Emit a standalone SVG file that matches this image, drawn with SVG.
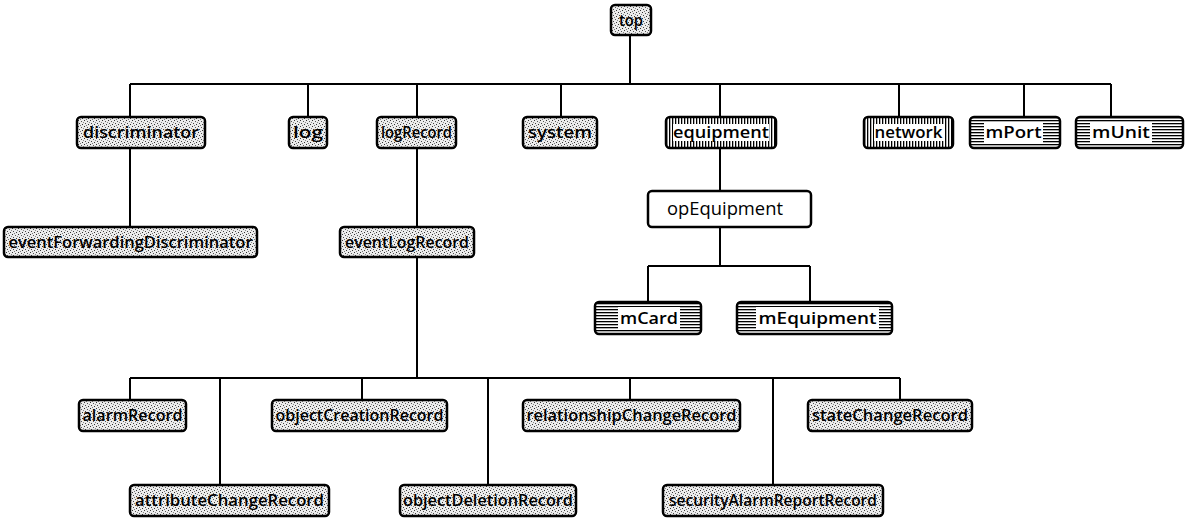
<svg xmlns="http://www.w3.org/2000/svg" width="1196" height="525" viewBox="0 0 1196 525">
<defs>
<pattern id="stip" width="6" height="6" patternUnits="userSpaceOnUse">
<rect width="6" height="6" fill="#ececec"/>
<rect x="0" y="0" width="1" height="1" fill="#333"/>
<rect x="3" y="1" width="1" height="1" fill="#555"/>
<rect x="1" y="3" width="1" height="1" fill="#444"/>
<rect x="4" y="4" width="1" height="1" fill="#333"/>
<rect x="5" y="2" width="1" height="1" fill="#888"/>
<rect x="2" y="5" width="1" height="1" fill="#777"/>
</pattern>
<pattern id="vh" width="3" height="3" patternUnits="userSpaceOnUse">
<rect width="3" height="3" fill="#fff"/>
<rect x="0" y="0" width="1.3" height="3" fill="#000"/>
</pattern>
<pattern id="hh" width="3" height="3" patternUnits="userSpaceOnUse">
<rect width="3" height="3" fill="#fff"/>
<rect x="0" y="0" width="3" height="1.3" fill="#000"/>
</pattern>
</defs>
<style>
.b{stroke:#000;stroke-width:2.5;fill:none}
.s{fill:url(#stip)}
.t{font-family:"Open Sans","DejaVu Sans",sans-serif;font-weight:600;font-size:17px;fill:#000;text-anchor:middle}
.r{font-weight:400;font-size:19px}
.c{stroke:#000;stroke-width:2;fill:none}
</style>
<g id="connectors">
<path class="c" d="M630,35V84M130,84H1111M130,84V117M308,84V117M417,84V117M561,84V117M720,84V117M899,84V117M1024,84V117M1111,84V117"/>
<path class="c" d="M130,148V227M417,148V227M720,148V191M720,227V266M648,266H810M648,266V302M810,266V302"/>
<path class="c" d="M417,257V378M130,378H900M130,378V400M220,378V485M362,378V400M488,378V485M630,378V400M773,378V485M900,378V400"/>
</g>
<g id="top"><rect class="s" x="611" y="5" width="40" height="30" rx="4"/><rect class="b" x="611" y="5" width="40" height="30" rx="4"/><text class="t" x="631" y="26" textLength="24" lengthAdjust="spacingAndGlyphs">top</text></g>
<g id="discriminator"><rect class="s" x="77" y="117" width="128" height="31" rx="4"/><rect class="b" x="77" y="117" width="128" height="31" rx="4"/><text class="t" x="141" y="138" textLength="116" lengthAdjust="spacingAndGlyphs">discriminator</text></g>
<g id="log"><rect class="s" x="289" y="117" width="38" height="31" rx="4"/><rect class="b" x="289" y="117" width="38" height="31" rx="4"/><text class="t" x="308" y="138" textLength="30" lengthAdjust="spacingAndGlyphs">log</text></g>
<g id="logRecord"><rect class="s" x="377" y="117" width="79" height="31" rx="4"/><rect class="b" x="377" y="117" width="79" height="31" rx="4"/><text class="t" x="416.5" y="138" textLength="71" lengthAdjust="spacingAndGlyphs">logRecord</text></g>
<g id="system"><rect class="s" x="523" y="117" width="74" height="31" rx="4"/><rect class="b" x="523" y="117" width="74" height="31" rx="4"/><text class="t" x="560" y="138" textLength="64" lengthAdjust="spacingAndGlyphs">system</text></g>
<g id="equipment"><rect x="666" y="117" width="110" height="31" rx="4" fill="url(#vh)"/><rect x="673" y="124" width="96" height="17" fill="#fff"/><rect class="b" x="666" y="117" width="110" height="31" rx="4"/><text class="t" x="721" y="138" textLength="96" lengthAdjust="spacingAndGlyphs">equipment</text></g>
<g id="network"><rect x="864" y="117" width="89" height="31" rx="4" fill="url(#vh)"/><rect x="874" y="124" width="70" height="17" fill="#fff"/><rect class="b" x="864" y="117" width="89" height="31" rx="4"/><text class="t" x="908.5" y="138" textLength="68" lengthAdjust="spacingAndGlyphs">network</text></g>
<g id="mPort"><rect x="970" y="117" width="90" height="31" rx="4" fill="url(#hh)"/><rect x="984" y="122" width="59" height="21" fill="#fff"/><rect class="b" x="970" y="117" width="90" height="31" rx="4"/><text class="t" x="1013.5" y="138" textLength="56" lengthAdjust="spacingAndGlyphs">mPort</text></g>
<g id="mUnit"><rect x="1076" y="117" width="107" height="31" rx="4" fill="url(#hh)"/><rect x="1090" y="122" width="62" height="21" fill="#fff"/><rect class="b" x="1076" y="117" width="107" height="31" rx="4"/><text class="t" x="1121" y="138" textLength="58" lengthAdjust="spacingAndGlyphs">mUnit</text></g>
<g id="eventForwardingDiscriminator"><rect class="s" x="4" y="227" width="253" height="30" rx="4"/><rect class="b" x="4" y="227" width="253" height="30" rx="4"/><text class="t" x="130.5" y="248" textLength="244" lengthAdjust="spacingAndGlyphs">eventForwardingDiscriminator</text></g>
<g id="eventLogRecord"><rect class="s" x="340" y="227" width="134" height="30" rx="4"/><rect class="b" x="340" y="227" width="134" height="30" rx="4"/><text class="t" x="407" y="248" textLength="124" lengthAdjust="spacingAndGlyphs">eventLogRecord</text></g>
<g id="opEquipment"><rect x="648" y="191" width="163" height="36" rx="4" fill="#fff"/><rect class="b" x="648" y="191" width="163" height="36" rx="4"/><text class="t r" x="725" y="215" textLength="116" lengthAdjust="spacingAndGlyphs">opEquipment</text></g>
<g id="mCard"><rect x="595" y="302" width="106" height="32" rx="4" fill="url(#hh)"/><rect x="618" y="307" width="62" height="22" fill="#fff"/><rect class="b" x="595" y="302" width="106" height="32" rx="4"/><text class="t" x="649" y="324" textLength="58" lengthAdjust="spacingAndGlyphs">mCard</text></g>
<g id="mEquipment"><rect x="737" y="302" width="155" height="32" rx="4" fill="url(#hh)"/><rect x="756" y="307" width="123" height="22" fill="#fff"/><rect class="b" x="737" y="302" width="155" height="32" rx="4"/><text class="t" x="817.5" y="324" textLength="118" lengthAdjust="spacingAndGlyphs">mEquipment</text></g>
<g id="alarmRecord"><rect class="s" x="79" y="400" width="107" height="31" rx="4"/><rect class="b" x="79" y="400" width="107" height="31" rx="4"/><text class="t" x="132.5" y="421" textLength="100" lengthAdjust="spacingAndGlyphs">alarmRecord</text></g>
<g id="objectCreationRecord"><rect class="s" x="272" y="400" width="175" height="31" rx="4"/><rect class="b" x="272" y="400" width="175" height="31" rx="4"/><text class="t" x="359.5" y="421" textLength="168" lengthAdjust="spacingAndGlyphs">objectCreationRecord</text></g>
<g id="relationshipChangeRecord"><rect class="s" x="523" y="400" width="217" height="31" rx="4"/><rect class="b" x="523" y="400" width="217" height="31" rx="4"/><text class="t" x="631.5" y="421" textLength="210" lengthAdjust="spacingAndGlyphs">relationshipChangeRecord</text></g>
<g id="stateChangeRecord"><rect class="s" x="808" y="400" width="164" height="31" rx="4"/><rect class="b" x="808" y="400" width="164" height="31" rx="4"/><text class="t" x="890" y="421" textLength="156" lengthAdjust="spacingAndGlyphs">stateChangeRecord</text></g>
<g id="attributeChangeRecord"><rect class="s" x="130" y="485" width="199" height="31" rx="4"/><rect class="b" x="130" y="485" width="199" height="31" rx="4"/><text class="t" x="229.5" y="506" textLength="189" lengthAdjust="spacingAndGlyphs">attributeChangeRecord</text></g>
<g id="objectDeletionRecord"><rect class="s" x="400" y="485" width="176" height="31" rx="4"/><rect class="b" x="400" y="485" width="176" height="31" rx="4"/><text class="t" x="488" y="506" textLength="170" lengthAdjust="spacingAndGlyphs">objectDeletionRecord</text></g>
<g id="securityAlarmReportRecord"><rect class="s" x="663" y="485" width="220" height="31" rx="4"/><rect class="b" x="663" y="485" width="220" height="31" rx="4"/><text class="t" x="773" y="506" textLength="208" lengthAdjust="spacingAndGlyphs">securityAlarmReportRecord</text></g>
</svg>
